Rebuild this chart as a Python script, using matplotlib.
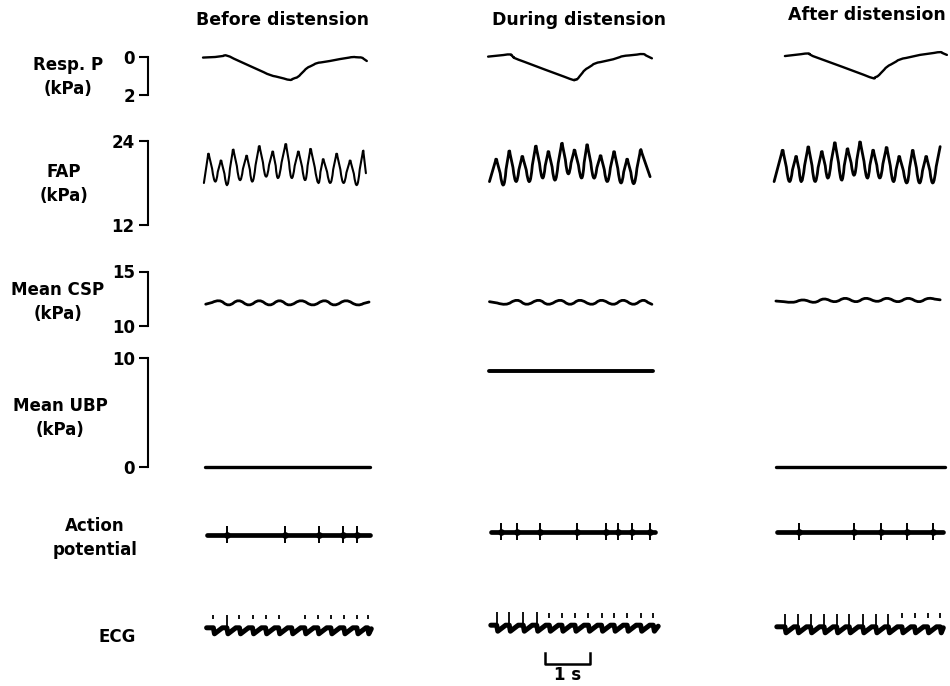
import matplotlib
matplotlib.use("Agg")
import matplotlib.pyplot as plt
from matplotlib.path import Path
from matplotlib.patches import PathPatch
import numpy as np

plt.rcParams["font.family"] = ["DejaVu Sans"]
plt.rcParams["font.weight"] = "bold"

# ---- data ----
titles = ["Before distension", "During distension", "After distension"]
row_names = ["Resp. P\n(kPa)", "FAP\n(kPa)", "Mean CSP\n(kPa)", "Mean UBP\n(kPa)",
             "Action\npotential", "ECG"]

# respiratory pressure, kPa (time in s)
resp_t_before = [0, 0.27, 0.53, 1.04, 1.49, 1.93, 2.11, 2.31, 2.53, 2.82, 3.04, 3.33, 3.53, 3.64]
resp_before = [0.03, 0.0, -0.08, 0.47, 0.95, 1.21, 1.05, 0.58, 0.32, 0.21, 0.11, 0.0, 0.03, 0.21]
resp_t_during = [-0.02, 0.47, 0.58, 1.24, 1.87, 1.96, 2.13, 2.36, 2.76, 2.98, 3.42, 3.62]
resp_during = [-0.02, -0.14, 0.07, 0.66, 1.21, 1.17, 0.68, 0.33, 0.12, -0.05, -0.16, 0.07]
resp_t_after = [0.22, 0.73, 0.84, 1.51, 2.18, 2.29, 2.49, 2.78, 3.22, 3.67, 3.82]
resp_after = [-0.05, -0.19, -0.05, 0.53, 1.12, 1.0, 0.51, 0.12, -0.11, -0.26, -0.11]

# femoral arterial pressure: systolic peaks and diastolic troughs, kPa
fap_peak_t_before = [0.12, 0.40, 0.67, 0.97, 1.25, 1.55, 1.84, 2.12, 2.39, 2.67, 2.97, 3.27, 3.56]
fap_peak_before = [22.3, 21.3, 22.9, 22.0, 23.4, 22.6, 23.7, 22.6, 23.0, 21.5, 22.3, 21.3, 22.7]
fap_trough_t_before = [0.02, 0.27, 0.54, 0.82, 1.10, 1.40, 1.67, 1.97, 2.27, 2.56, 2.83, 3.12, 3.42, 3.62]
fap_trough_before = [18.0, 18.2, 17.7, 18.4, 18.2, 18.9, 18.7, 18.7, 18.4, 18.0, 18.0, 18.0, 17.7, 19.4]

fap_peak_t_during = [0.16, 0.45, 0.74, 1.04, 1.32, 1.62, 1.90, 2.18, 2.48, 2.78, 3.07, 3.37]
fap_peak_during = [21.5, 22.7, 21.9, 23.4, 22.6, 23.8, 22.8, 23.6, 22.0, 22.6, 21.5, 22.8]
fap_trough_t_during = [0.01, 0.32, 0.60, 0.90, 1.19, 1.47, 1.76, 2.06, 2.33, 2.63, 2.93, 3.22, 3.58]
fap_trough_during = [18.2, 17.7, 18.2, 18.2, 18.7, 18.4, 19.3, 18.7, 18.7, 18.2, 18.0, 17.9, 18.9]

fap_peak_t_after = [0.17, 0.47, 0.74, 1.04, 1.33, 1.61, 1.89, 2.18, 2.48, 2.76, 3.06, 3.36, 3.67]
fap_peak_after = [22.8, 21.9, 23.3, 22.6, 23.9, 23.0, 24.0, 22.8, 23.2, 21.9, 22.8, 21.9, 23.2]
fap_trough_t_after = [-0.02, 0.32, 0.59, 0.89, 1.18, 1.48, 1.76, 2.05, 2.33, 2.63, 2.93, 3.21, 3.51]
fap_trough_after = [18.2, 18.2, 18.2, 18.2, 18.7, 18.4, 19.1, 18.7, 18.7, 18.2, 18.0, 18.0, 18.0]

# mean carotid sinus pressure, kPa (alternating crests / troughs)
csp_t_before = [0.06, 0.35, 0.57, 0.79, 1.02, 1.25, 1.48, 1.70, 1.92, 2.18, 2.44, 2.70, 2.92, 3.18, 3.44, 3.69]
csp_before = [12.0, 12.32, 11.93, 12.32, 11.93, 12.32, 11.93, 12.32, 11.93, 12.32, 11.93, 12.32, 11.93, 12.32, 11.93, 12.2]
csp_t_during = [0.01, 0.36, 0.62, 0.84, 1.10, 1.32, 1.58, 1.80, 2.02, 2.28, 2.50, 2.76, 2.98, 3.21, 3.43, 3.62]
csp_during = [12.23, 11.99, 12.36, 11.99, 12.36, 11.99, 12.36, 11.99, 12.36, 11.99, 12.36, 11.99, 12.36, 11.99, 12.36, 11.99]
csp_t_after = [0.02, 0.38, 0.62, 0.87, 1.09, 1.33, 1.56, 1.80, 2.02, 2.27, 2.49, 2.73, 2.96, 3.20, 3.42, 3.67]
csp_after = [12.29, 12.17, 12.39, 12.17, 12.48, 12.23, 12.54, 12.23, 12.54, 12.26, 12.54, 12.23, 12.54, 12.23, 12.54, 12.4]

# mean urinary bladder pressure, kPa
ubp_t_before = [0.04, 3.70]
ubp_before = [0.0, 0.0]
ubp_t_during = [0.0, 3.64]
ubp_during = [8.8, 8.8]
ubp_t_after = [0.02, 3.78]
ubp_after = [0.0, 0.0]

# action potential: trace span, baseline and spike times (s)
ap_span = [(0.08, 3.70), (0.04, 3.69), (0.04, 3.73)]
ap_base = [0.0, 2.7, 2.7]
ap_spikes_before = [0.53, 1.82, 2.58, 3.12, 3.43]
ap_spikes_during = [0.26, 0.62, 1.13, 1.96, 2.59, 2.87, 3.18, 3.58]
ap_spikes_after = [0.54, 1.76, 2.35, 2.94, 3.50]

# ECG: beat times, marker type (2 = full R line, 1 = short mark, 0 = none)
ecg_span = [(0.08, 3.74), (0.04, 3.76), (0.04, 3.74)]
ecg_base = [-1.8, 0.8, -0.8]
ecg_beats_before = [0.23, 0.53, 0.81, 1.10, 1.39, 1.68, 1.97, 2.26, 2.55, 2.84, 3.13, 3.42, 3.66]
ecg_marks_before = [1, 2, 1, 1, 1, 1, 0, 1, 1, 1, 1, 1, 1]
ecg_beats_during = [0.17, 0.45, 0.76, 1.06, 1.34, 1.62, 1.91, 2.21, 2.50, 2.78, 3.07, 3.37, 3.65]
ecg_marks_during = [2, 2, 2, 2, 1, 1, 1, 1, 1, 1, 1, 1, 1]
ecg_beats_after = [0.22, 0.50, 0.79, 1.09, 1.37, 1.65, 1.95, 2.24, 2.52, 2.82, 3.10, 3.39, 3.67]
ecg_marks_after = [2, 2, 2, 2, 2, 2, 2, 2, 2, 1, 1, 1, 1]

# ---- layout (pixels of the 950 x 686 picture) ----
W, H = 950, 686
px_per_s = 45.0
col_origin = [203, 489, 775]
left_pad = 55       # bracket sits this far left of t = 0 in first column
t_right = 3.9
row_px = [(57, 95), (141, 225), (271.5, 326), (358, 467), (520, 550), (605, 650)]
row_vals = [(0, 2), (24, 12), (15, 10), (10, 0), (15, -15), (22.5, -22.5)]
label_xy = [(68, 77), (64, 184), (58, 302), (60, 418), (95, 538), (117, 637)]
title_xy = [(282, 20), (579, 20), (867, 15)]


def pen_trace(ax, t, v, rounding, lw):
    # pen-recorder look: corners listed in `rounding` are drawn as smooth arcs
    # that still pass through the read value
    t = np.asarray(t, float)
    v = np.asarray(v, float)
    verts = [(t[0], v[0])]
    codes = [Path.MOVETO]
    for i in range(1, len(t) - 1):
        f = rounding[i]
        p = np.array([t[i], v[i]])
        if f <= 0:
            verts.append(tuple(p))
            codes.append(Path.LINETO)
            continue
        a = p + f * (np.array([t[i - 1], v[i - 1]]) - p)
        b = p + f * (np.array([t[i + 1], v[i + 1]]) - p)
        c = 2 * p - 0.5 * (a + b)
        verts += [tuple(a), tuple(c), tuple(b)]
        codes += [Path.LINETO, Path.CURVE3, Path.CURVE3]
    verts.append((t[-1], v[-1]))
    codes.append(Path.LINETO)
    ax.add_patch(PathPatch(Path(verts, codes), fill=False, lw=lw, ec="black",
                           joinstyle="round", capstyle="round", clip_on=False))


fig = plt.figure(figsize=(W / 100, H / 100), dpi=100)

axes = []
for r, (ytop, ybot) in enumerate(row_px):
    row = []
    for c, x0 in enumerate(col_origin):
        xl = x0 - left_pad
        xr = x0 + t_right * px_per_s
        ax = fig.add_axes([xl / W, 1 - ybot / H, (xr - xl) / W, (ybot - ytop) / H])
        ax.set_xlim(-left_pad / px_per_s, t_right)
        ax.set_ylim(row_vals[r][1], row_vals[r][0])
        ax.patch.set_visible(False)
        for s in ax.spines.values():
            s.set_visible(False)
        ax.set_xticks([])
        ax.set_yticks([])
        if c == 0 and r < 4:
            sp = ax.spines["left"]
            sp.set_visible(True)
            sp.set_linewidth(1.5)
            sp.set_bounds(min(row_vals[r]), max(row_vals[r]))
            ax.set_yticks(list(row_vals[r]))
            ax.set_yticklabels([str(v) for v in row_vals[r]])
            ax.tick_params(axis="y", direction="out", length=6.5, width=1.5,
                           pad=3, labelsize=12)
        row.append(ax)
    axes.append(row)

lw_kw = dict(color="black", clip_on=False, solid_joinstyle="round", solid_capstyle="round")

# respiratory pressure
for c, (t, v) in enumerate([(resp_t_before, resp_before), (resp_t_during, resp_during),
                            (resp_t_after, resp_after)]):
    pen_trace(axes[0][c], t, v, [0.3] * len(t), 1.7)

# FAP: merge peaks and troughs in time, round the troughs
fap_sets = [(fap_peak_t_before, fap_peak_before, fap_trough_t_before, fap_trough_before),
            (fap_peak_t_during, fap_peak_during, fap_trough_t_during, fap_trough_during),
            (fap_peak_t_after, fap_peak_after, fap_trough_t_after, fap_trough_after)]
for c, (pt, pv, tt, tv) in enumerate(fap_sets):
    t = np.array(pt + tt)
    v = np.array(pv + tv)
    is_trough = np.array([False] * len(pt) + [True] * len(tt))
    order = np.argsort(t)
    rounding = np.where(is_trough[order], 0.45, 0.12)
    pen_trace(axes[1][c], t[order], v[order], rounding, 1.5 if c == 0 else 2.0)

# mean CSP
for c, (t, v) in enumerate([(csp_t_before, csp_before), (csp_t_during, csp_during),
                            (csp_t_after, csp_after)]):
    pen_trace(axes[2][c], t, v, [0.5] * len(t), 2.0)

# mean UBP
for c, (t, v) in enumerate([(ubp_t_before, ubp_before), (ubp_t_during, ubp_during),
                            (ubp_t_after, ubp_after)]):
    axes[3][c].plot(t, v, lw=2.4 if c != 1 else 2.8, **lw_kw)

# action potential
for c, spikes in enumerate([ap_spikes_before, ap_spikes_during, ap_spikes_after]):
    ax = axes[4][c]
    b = ap_base[c]
    ax.plot(ap_span[c], [b, b], lw=3.4, **lw_kw)
    ax.vlines(spikes, b - 8, b + 9.5, color="black", lw=1.4, clip_on=False)
    ax.plot(spikes, [b] * len(spikes), "o", ms=3.8, color="black", clip_on=False)

# ECG
for c, (beats, marks) in enumerate([(ecg_beats_before, ecg_marks_before),
                                    (ecg_beats_during, ecg_marks_during),
                                    (ecg_beats_after, ecg_marks_after)]):
    ax = axes[5][c]
    b = ecg_base[c]
    t_end = ecg_span[c][1]
    xs = [ecg_span[c][0]]
    ys = [b + 1.5]
    for tb in beats:
        for dt, dv in ((0.0, 1.5), (0.025, -4.5), (0.2, 1.5)):
            if tb + dt < t_end:
                xs.append(tb + dt)
                ys.append(b + dv)
    xs.append(t_end)
    ys.append(b + 0.5)
    ax.plot(xs, ys, lw=3.6, **lw_kw)
    for tb, m in zip(beats, marks):
        if m == 2:
            ax.vlines(tb, b, b + 14.5, color="black", lw=1.3, clip_on=False)
        elif m == 1:
            top = 12.5 if c == 0 else 14.2
            ax.vlines(tb, top - 4.2, top, color="black", lw=1.3, clip_on=False)

# 1 s scale bar under the middle ECG trace
bar_t0, bar_len = 1.24, 1.0
axes[5][1].plot([bar_t0, bar_t0, bar_t0 + bar_len, bar_t0 + bar_len],
                [-25.5, -36.5, -36.5, -25.5], lw=1.8, color="black", clip_on=False)
axes[5][1].text(bar_t0 + bar_len / 2, -47.5, "1 s", ha="center", va="center",
                fontsize=12, fontweight="bold")

for name, (x, y) in zip(row_names, label_xy):
    fig.text(x / W, 1 - y / H, name, ha="center", va="center", fontsize=12,
             fontweight="bold", linespacing=1.45)

for name, (x, y) in zip(titles, title_xy):
    fig.text(x / W, 1 - y / H, name, ha="center", va="center", fontsize=12.5,
             fontweight="bold")

fig.savefig("out.png", dpi=100)
